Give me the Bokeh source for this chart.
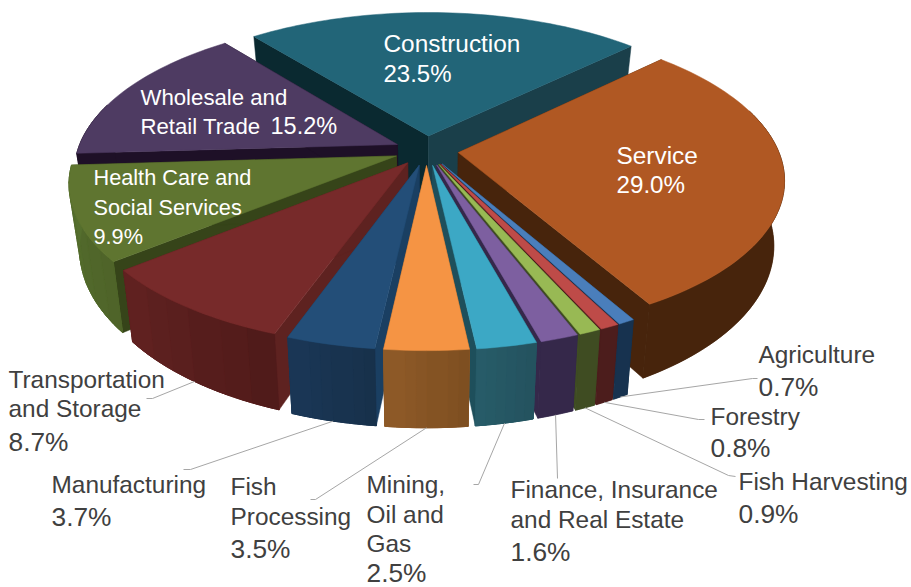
import math
from bokeh.plotting import figure
from bokeh.models import Range1d
from bokeh.core.properties import value
from bokeh.embed import file_html
from bokeh.resources import INLINE

# ---- data ----
categories = ["Service", "Agriculture", "Forestry", "Fish Harvesting",
              "Finance, Insurance and Real Estate", "Mining, Oil and Gas",
              "Fish Processing", "Manufacturing", "Transportation and Storage",
              "Health Care and Social Services", "Wholesale and Retail Trade", "Construction"]
values = [29.0, 0.7, 0.8, 0.9, 1.6, 2.5, 3.5, 3.7, 8.7, 9.9, 15.2, 23.5]

# ---- label wrapping (last line receives the percentage) ----
name_lines = [["Service"], ["Agriculture"], ["Forestry"], ["Fish Harvesting"],
              ["Finance, Insurance", "and Real Estate"], ["Mining,", "Oil and", "Gas"],
              ["Fish", "Processing"], ["Manufacturing"], ["Transportation", "and Storage"],
              ["Health Care and", "Social Services"], ["Wholesale and", "Retail Trade"], ["Construction"]]

# ---- style ----
top_colors = ["#B05823", "#4A7EBB", "#BE4B48", "#98B954", "#7D5FA0", "#3CA8C5",
              "#F59444", "#234E78", "#772A2A", "#5F7530", "#4E3B62", "#226578"]
side_a = ["#47240C", "#17324F", "#4C1D1C", "#3F4C22", "#35284A", "#275C69",
          "#8F5A28", "#1A3756", "#612221", "#56702F", "#1E1027", "#1A3F4A"]
side_b = ["#47240C", "#17324F", "#4C1D1C", "#3F4C22", "#35284A", "#24525E",
          "#7C4E20", "#17304A", "#4F1A19", "#4E6328", "#1E1027", "#1A3F4A"]
wall_start = ["#47240C", "#17324F", "#4C1D1C", "#3F4C22", "#35284A", "#1E4F5B",
              "#8F5A28", "#1A3F62", "#5E2220", "#364419", "#1E1027", "#0A2930"]
wall_end = ["#47240C", "#17324F", "#4C1D1C", "#3F4C22", "#35284A", "#1E4F5B",
            "#8F5A28", "#1A3F62", "#5E2220", "#364419", "#1E1027", "#1A3F4A"]
label_color_out = "#404040"
leader_color = "#A6A6A6"
FONT = value("Liberation Sans")

# ---- projection ----
cx, cy, a, b, k, h, shrink, explode, start_deg = 426, 150, 320, 148.5, 0.167, 63, 0.97, 0.1, 45.9


def project(X, Y, bottom=False):
    s = 1 / (1 - k * Y)
    x, y = cx + a * X * s, cy + b * Y * s
    if bottom:
        x, y = cx + (x - cx) * shrink, y + h * s
    return x, y


def hex_mix(c1, c2, t):
    p = [int(c1[i:i + 2], 16) for i in (1, 3, 5)]
    q = [int(c2[i:i + 2], 16) for i in (1, 3, 5)]
    return "#%02x%02x%02x" % tuple(round(u + (v - u) * t) for u, v in zip(p, q))


total = sum(values)
slices = []
ang = start_deg
for i, v in enumerate(values):
    span = v / total * 360
    slices.append((i, ang, ang + span))
    ang += span


def offs(t0, t1):
    m = math.radians((t0 + t1) / 2)
    return explode * math.sin(m), -explode * math.cos(m)


def rim(t, dx, dy):
    r = math.radians(t)
    return math.sin(r) + dx, -math.cos(r) + dy


xs, ys, fills = [], [], []


def add(points, color):
    xs.append([q[0] for q in points])
    ys.append([q[1] for q in points])
    fills.append(color)


for i, t0, t1 in sorted(slices, key=lambda s: -math.cos(math.radians((s[1] + s[2]) / 2))):
    dx, dy = offs(t0, t1)
    n = max(2, int((t1 - t0) / 1.5))
    ts = [t0 + (t1 - t0) * j / n for j in range(n + 1)]
    arc = [rim(t, dx, dy) for t in ts]
    # outer side only where it faces the viewer: one polygon, then gradient bands over it
    facing = [q for t, q in zip(ts, arc) if -math.cos(math.radians(t)) > -0.3]
    if len(facing) > 1:
        add([project(*q) for q in facing] + [project(*q, True) for q in reversed(facing)], side_a[i])
        if side_a[i] != side_b[i]:
            bands = 6
            m = len(facing) - 1
            for c in range(bands):
                j0, j1 = m * c // bands, m * (c + 1) // bands
                if j1 <= j0:
                    continue
                seg = facing[j0:j1 + 1]
                add([project(*q) for q in seg] + [project(*q, True) for q in reversed(seg)],
                    hex_mix(side_a[i], side_b[i], 1 - (c + 0.5) / bands))
    # radial walls
    for t, col in ((t0, wall_start[i]), (t1, wall_end[i])):
        P = rim(t, dx, dy)
        add([project(dx, dy), project(*P), project(*P, True), project(dx, dy, True)], col)
    # re-cover the wall where the front side passes over it
    if len(facing) > 1:
        add([project(*q) for q in facing] + [project(*q, True) for q in reversed(facing)], side_a[i])
        if side_a[i] != side_b[i]:
            bands = 6
            m = len(facing) - 1
            for c in range(bands):
                j0, j1 = m * c // bands, m * (c + 1) // bands
                if j1 <= j0:
                    continue
                seg = facing[j0:j1 + 1]
                add([project(*q) for q in seg] + [project(*q, True) for q in reversed(seg)],
                    hex_mix(side_a[i], side_b[i], 1 - (c + 0.5) / bands))
    # top
    add([project(dx, dy)] + [project(*q) for q in arc], top_colors[i])

p = figure(width=911, height=587, x_range=Range1d(0, 911), y_range=Range1d(587, 0),
           x_axis_type=None, y_axis_type=None, toolbar_location=None,
           output_backend="svg", min_border=0, outline_line_color=None)
p.grid.visible = False
p.patches(xs, ys, fill_color=fills, line_color=fills, line_width=0.5)

# ---- label layout: x, baselines, font sizes (name, pct), colour, leader end ----
layout = {
    "Service": (616, [164, 193], 24.4, 24.2, "white", None),
    "Construction": (383, [52, 82], 24.4, 24.0, "white", None),
    "Wholesale and Retail Trade": (140, [105, 134], 22.2, 23.5, "white", None),
    "Health Care and Social Services": (93, [185, 215, 244], 21.7, 21.7, "white", None),
    "Agriculture": (758, [363, 396], 24.4, 26.3, label_color_out, [(752, 378), (757, 378)]),
    "Forestry": (710, [425, 457], 24.4, 26.3, label_color_out, [(698, 419), (704, 419)]),
    "Fish Harvesting": (738, [490, 523], 24.4, 26.3, label_color_out, [(728, 475), (735, 476)]),
    "Finance, Insurance and Real Estate": (510, [498, 528, 561], 24.4, 26.3, label_color_out, [(557, 478)]),
    "Mining, Oil and Gas": (366, [493, 523, 552, 582], 24.4, 26.3, label_color_out, [(478, 484), (473, 484)]),
    "Fish Processing": (230, [495, 525, 558], 24.4, 26.3, label_color_out, [(315, 499), (310, 499)]),
    "Manufacturing": (51, [493, 526], 24.4, 26.3, label_color_out, [(190, 469), (183, 469)]),
    "Transportation and Storage": (8, [388, 417, 451], 24.4, 26.3, label_color_out, [(152, 398), (146, 398)]),
}
inline_pct_x = {"Wholesale and Retail Trade": 270}


def put(x, base, line, fs, col):
    p.text([x], [base - 0.37 * fs], text=[line], text_font=FONT, text_font_size=f"{fs}px",
           text_color=col, text_baseline="middle", text_align="left")


for i, t0, t1 in slices:
    name = categories[i]
    x, bases, fs_name, fs_pct, col, leader = layout[name]
    pct = f"{values[i]:.1f}%"
    for line, base in zip(name_lines[i], bases):
        put(x, base, line, fs_name, col)
    if name in inline_pct_x:
        put(inline_pct_x[name], bases[-1], pct, fs_pct, col)
    else:
        put(x, bases[-1], pct, fs_pct, col)
    if leader:
        dx, dy = offs(t0, t1)
        m = (t0 + t1) / 2
        sx, sy = project(*rim(m, dx, dy), True)
        pts = [(sx, sy)] + leader
        p.line([q[0] for q in pts], [q[1] for q in pts], line_color=leader_color, line_width=1)

open("out.html", "w").write(file_html(p, INLINE))
